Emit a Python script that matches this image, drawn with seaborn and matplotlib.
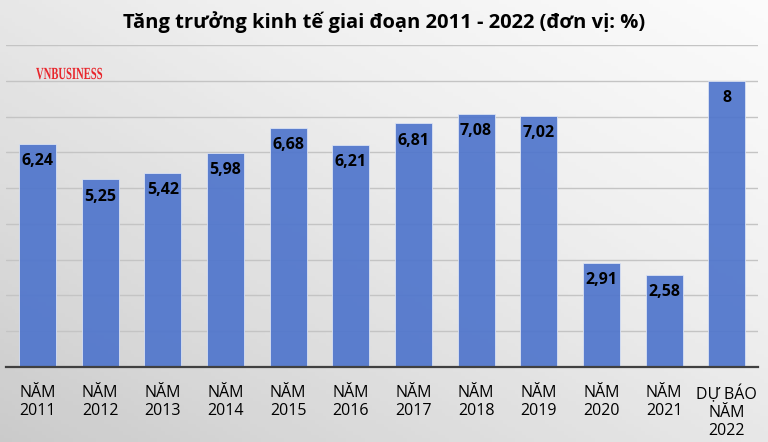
import numpy as np
import seaborn as sns
import matplotlib.pyplot as plt
import pandas as pd
from matplotlib.textpath import TextPath
from matplotlib.patches import PathPatch
from matplotlib.font_manager import FontProperties
from matplotlib.transforms import Affine2D, IdentityTransform

categories = ["NĂM\n2011", "NĂM\n2012", "NĂM\n2013", "NĂM\n2014", "NĂM\n2015", "NĂM\n2016",
              "NĂM\n2017", "NĂM\n2018", "NĂM\n2019", "NĂM\n2020", "NĂM\n2021", "DỰ BÁO\nNĂM\n2022"]
values = [6.24, 5.25, 5.42, 5.98, 6.68, 6.21, 6.81, 7.08, 7.02, 2.91, 2.58, 8]
value_labels = ["6,24", "5,25", "5,42", "5,98", "6,68", "6,21", "6,81", "7,08", "7,02", "2,91", "2,58", "8"]

sns.set_theme(style="white")
plt.rcParams['font.family'] = ['Open Sans', 'DejaVu Sans']

df = pd.DataFrame({"cat": categories, "val": values})

fig = plt.figure(figsize=(7.68, 4.42), dpi=100)

# grey diagonal gradient background
bg = fig.add_axes([0, 0, 1, 1], zorder=-10)
gx, gy = np.meshgrid(np.linspace(0, 1, 200), np.linspace(0, 1, 120))
grad = 0.5 * gx + 0.5 * (1 - gy)
bg.imshow(grad, cmap="Greys_r", vmin=-2.4, vmax=1.1, aspect="auto", extent=[0, 1, 0, 1])
bg.axis("off")

ax = fig.add_axes([0.008, 0.1697, 0.979, 0.7283])
ax.set_facecolor("none")
sns.barplot(data=df, x="cat", y="val", color="#4f75cc", width=0.59, alpha=0.92,
            saturation=1, edgecolor="#dfe6f5", linewidth=0.6, ax=ax, zorder=3)

ax.set_ylim(0, 9)
ax.set_yticks(np.arange(0, 10, 1))
ax.yaxis.grid(True, color="#c4c4c4", linewidth=1)
ax.set_axisbelow(True)
ax.tick_params(axis="y", left=False, labelleft=False)
ax.tick_params(axis="x", bottom=False, labelsize=11.5, pad=7, colors="black")
for lbl in ax.get_xticklabels():
    lbl.set_linespacing(1.15)
ax.set_xlabel("")
ax.set_ylabel("")
for s in ["top", "right", "left"]:
    ax.spines[s].set_visible(False)
ax.spines["bottom"].set_color("#404040")
ax.spines["bottom"].set_linewidth(1.6)
ax.spines["bottom"].set_zorder(5)

for i, (v, t) in enumerate(zip(values, value_labels)):
    ax.annotate(t, (i, v), xytext=(0, -12.5), textcoords="offset points",
                ha="center", va="center", fontsize=11.5, fontweight="bold", color="black", zorder=6)

fig.text(0.5, 0.95, "Tăng trưởng kinh tế giai đoạn 2011 - 2022 (đơn vị: %)",
         ha="center", va="center", fontsize=14.5, fontweight="bold", color="black")

# condensed serif watermark
wm = TextPath((0, 0), "VNBUSINESS", size=17,
              prop=FontProperties(family=["Liberation Serif", "DejaVu Serif"], weight="bold"))
ext = wm.get_extents()
sx = 66 / ext.width
wm_tr = Affine2D().scale(sx, 1.0).translate(36, 442 - 79)
fig.patches.append(PathPatch(wm, transform=wm_tr + IdentityTransform(), facecolor="#e8262c",
                             edgecolor="none", figure=fig))

fig.savefig("out.png", dpi=100)
